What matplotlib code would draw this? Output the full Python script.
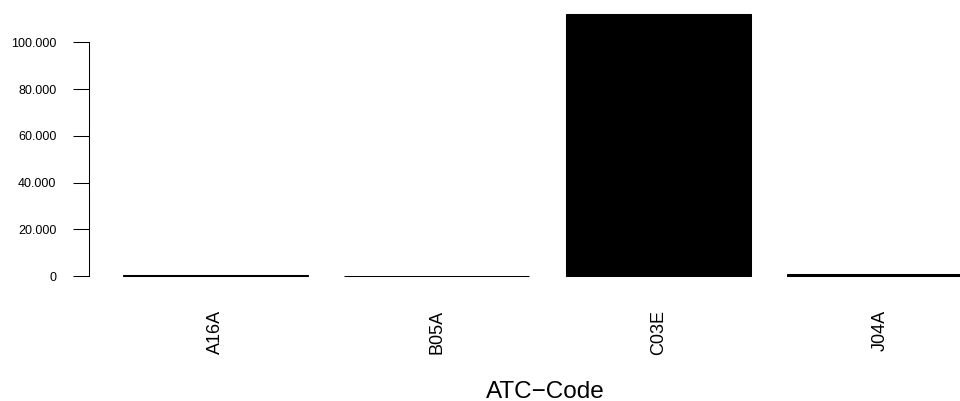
import matplotlib
matplotlib.use('Agg')
from matplotlib import pyplot as plt
from matplotlib.ticker import FuncFormatter

# ATC codes and their totals
codes = ['A16A', 'B05A', 'C03E', 'J04A']
values = [600, 150, 112000, 1000]
yticks = [0, 20000, 40000, 60000, 80000, 100000]

plt.rcParams['font.family'] = ['Liberation Sans', 'DejaVu Sans']

fig = plt.figure(figsize=(9.6, 4.01), dpi=100)
# plot region as in R barplot (space=0.2), right part runs past the figure edge
ax = fig.add_axes([89 / 960, 1 - 286.5 / 401, 917 / 960, 282.7 / 401])

pos = [0.2 + 1.2 * i + 0.5 for i in range(len(codes))]
ax.bar(pos, values, width=1.0, color='black', edgecolor='black', linewidth=0.75)

ax.set_xlim(0.016, 4.984)
ax.set_ylim(-0.04 * max(values), 1.04 * max(values))

for s in ['top', 'right', 'bottom']:
    ax.spines[s].set_visible(False)
ax.spines['left'].set_bounds(0, 100000)
ax.spines['left'].set_linewidth(0.75)

ax.set_yticks(yticks)
ax.yaxis.set_major_formatter(FuncFormatter(lambda v, p: '{:,.0f}'.format(v).replace(',', '.')))
ax.tick_params(axis='y', length=11.5, width=0.75, pad=12, labelsize=9)

ax.set_xticks(pos)
ax.set_xticklabels(codes, rotation=90)
ax.tick_params(axis='x', length=0, pad=17, labelsize=13)

fig.text(545 / 960, 1 - 397.5 / 401, 'ATC\u2212Code', ha='center', va='baseline', fontsize=17.5)

fig.savefig('out.png', dpi=100)
